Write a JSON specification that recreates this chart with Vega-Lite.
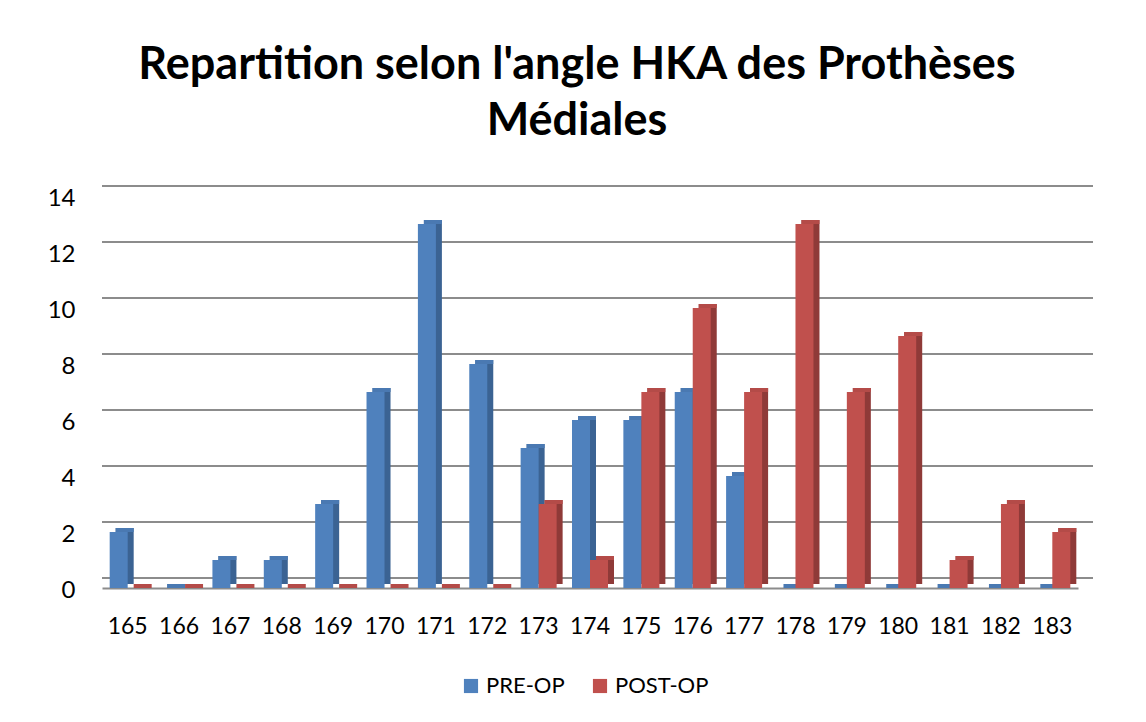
{
  "$schema": "https://vega.github.io/schema/vega-lite/v6.json",
  "autosize": "none",
  "width": 976,
  "height": 392,
  "padding": {"left": 102, "top": 196, "right": 68, "bottom": 134},
  "background": "white",
  "title": {
    "text": ["Repartition selon l'angle HKA des Prothèses", "Médiales"],
    "font": "Lato",
    "fontSize": 45,
    "fontWeight": "bold",
    "color": "#000000",
    "anchor": "middle",
    "offset": 41,
    "lineHeight": 56,
    "dx": -13
  },
  "data": {
    "values": [
      {"angle": "165", "phase": "PRE-OP", "count": 2}, {"angle": "165", "phase": "POST-OP", "count": 0},
      {"angle": "166", "phase": "PRE-OP", "count": 0}, {"angle": "166", "phase": "POST-OP", "count": 0},
      {"angle": "167", "phase": "PRE-OP", "count": 1}, {"angle": "167", "phase": "POST-OP", "count": 0},
      {"angle": "168", "phase": "PRE-OP", "count": 1}, {"angle": "168", "phase": "POST-OP", "count": 0},
      {"angle": "169", "phase": "PRE-OP", "count": 3}, {"angle": "169", "phase": "POST-OP", "count": 0},
      {"angle": "170", "phase": "PRE-OP", "count": 7}, {"angle": "170", "phase": "POST-OP", "count": 0},
      {"angle": "171", "phase": "PRE-OP", "count": 13}, {"angle": "171", "phase": "POST-OP", "count": 0},
      {"angle": "172", "phase": "PRE-OP", "count": 8}, {"angle": "172", "phase": "POST-OP", "count": 0},
      {"angle": "173", "phase": "PRE-OP", "count": 5}, {"angle": "173", "phase": "POST-OP", "count": 3},
      {"angle": "174", "phase": "PRE-OP", "count": 6}, {"angle": "174", "phase": "POST-OP", "count": 1},
      {"angle": "175", "phase": "PRE-OP", "count": 6}, {"angle": "175", "phase": "POST-OP", "count": 7},
      {"angle": "176", "phase": "PRE-OP", "count": 7}, {"angle": "176", "phase": "POST-OP", "count": 10},
      {"angle": "177", "phase": "PRE-OP", "count": 4}, {"angle": "177", "phase": "POST-OP", "count": 7},
      {"angle": "178", "phase": "PRE-OP", "count": 0}, {"angle": "178", "phase": "POST-OP", "count": 13},
      {"angle": "179", "phase": "PRE-OP", "count": 0}, {"angle": "179", "phase": "POST-OP", "count": 7},
      {"angle": "180", "phase": "PRE-OP", "count": 0}, {"angle": "180", "phase": "POST-OP", "count": 9},
      {"angle": "181", "phase": "PRE-OP", "count": 0}, {"angle": "181", "phase": "POST-OP", "count": 1},
      {"angle": "182", "phase": "PRE-OP", "count": 0}, {"angle": "182", "phase": "POST-OP", "count": 3},
      {"angle": "183", "phase": "PRE-OP", "count": 0}, {"angle": "183", "phase": "POST-OP", "count": 2}
    ]
  },
  "layer": [
    {
      "data": {"values": [{"g": 0}, {"g": 2}, {"g": 4}, {"g": 6}, {"g": 8}, {"g": 10}, {"g": 12}, {"g": 14}]},
      "mark": {"type": "rule", "color": "#8c8c8c", "strokeWidth": 2, "xOffset": 15, "x2Offset": 15, "yOffset": -10},
      "encoding": {
        "y": {
          "field": "g",
          "type": "quantitative",
          "scale": {"domain": [0, 14]},
          "axis": {
            "title": null,
            "values": [0, 2, 4, 6, 8, 10, 12, 14],
            "labelFont": "Lato",
            "labelFontSize": 24,
            "labelColor": "#000000",
            "labelPadding": 27,
            "labelOffset": 2,
            "ticks": false,
            "domain": false,
            "grid": false
          }
        }
      }
    },
    {
      "transform": [{"filter": "datum.phase === 'PRE-OP'"}],
      "mark": {"type": "bar", "width": 18, "xOffset": -3, "yOffset": -4, "y2Offset": -4, "color": "#3b6393"},
      "encoding": {
        "x": {
          "field": "angle",
          "type": "nominal",
          "scale": {"paddingInner": 0.26, "paddingOuter": 0.13},
          "axis": {
            "title": null,
            "labelAngle": 0,
            "labelFont": "Lato",
            "labelFontSize": 23,
            "labelColor": "#000000",
            "labelPadding": 27,
            "ticks": false,
            "domain": true,
            "domainColor": "#8c8c8c",
            "domainWidth": 2
          }
        },
        "y": {"field": "count", "type": "quantitative"}
      }
    },
    {
      "transform": [{"filter": "datum.phase === 'POST-OP'"}],
      "mark": {"type": "bar", "width": 18, "xOffset": 15, "yOffset": -4, "y2Offset": -4, "color": "#8f3a38"},
      "encoding": {
        "x": {"field": "angle", "type": "nominal"},
        "y": {"field": "count", "type": "quantitative"}
      }
    },
    {
      "transform": [{"filter": "datum.phase === 'PRE-OP'"}],
      "mark": {"type": "bar", "width": 18, "xOffset": -3, "yOffset": -4, "y2Offset": 0, "color": "#4a79b2"},
      "encoding": {
        "x": {"field": "angle", "type": "nominal"},
        "y": {"field": "count", "type": "quantitative"},
        "y2": {"field": "count"}
      }
    },
    {
      "transform": [{"filter": "datum.phase === 'POST-OP'"}],
      "mark": {"type": "bar", "width": 18, "xOffset": 15, "yOffset": -4, "y2Offset": 0, "color": "#b44b48"},
      "encoding": {
        "x": {"field": "angle", "type": "nominal"},
        "y": {"field": "count", "type": "quantitative"},
        "y2": {"field": "count"}
      }
    },
    {
      "transform": [{"filter": "datum.phase === 'PRE-OP'"}],
      "mark": {"type": "bar", "width": 18, "xOffset": -9},
      "encoding": {
        "x": {"field": "angle", "type": "nominal"},
        "y": {"field": "count", "type": "quantitative"},
        "color": {
          "field": "phase",
          "type": "nominal",
          "scale": {"domain": ["PRE-OP", "POST-OP"], "range": ["#4F81BD", "#C0504D"]},
          "legend": {
            "title": null,
            "orient": "none",
            "legendX": 358,
            "legendY": 479,
            "direction": "horizontal",
            "symbolType": "square",
            "symbolSize": 200,
            "symbolStrokeWidth": 0,
            "labelFont": "Lato",
            "labelFontSize": 22,
            "labelColor": "#000000",
            "columnPadding": 24
          }
        }
      }
    },
    {
      "transform": [{"filter": "datum.phase === 'POST-OP'"}],
      "mark": {"type": "bar", "width": 18, "xOffset": 9},
      "encoding": {
        "x": {"field": "angle", "type": "nominal"},
        "y": {"field": "count", "type": "quantitative"},
        "color": {
          "field": "phase",
          "type": "nominal",
          "scale": {"domain": ["PRE-OP", "POST-OP"], "range": ["#4F81BD", "#C0504D"]}
        }
      }
    }
  ],
  "config": {"view": {"stroke": null}}
}
